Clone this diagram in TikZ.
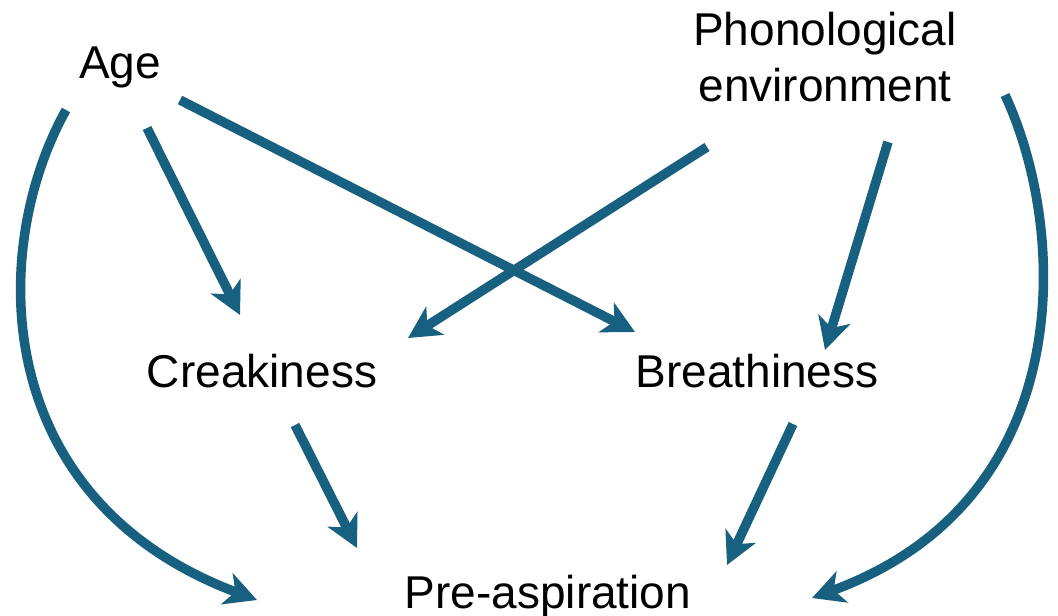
\documentclass[tikz,border=0pt]{standalone}
\usepackage{fontspec}
\setmainfont{Liberation Sans}
\usetikzlibrary{arrows.meta}
\definecolor{arrowblue}{RGB}{24,96,128}
\begin{document}
\begin{tikzpicture}[x=1pt,y=-1pt,
  lbl/.style={inner sep=0pt,font=\fontsize{46}{56}\selectfont,text=black},
  arr/.style={draw=arrowblue,line width=9.5pt,-{Stealth[length=32pt,width=33pt,inset=9pt]}}]
\useasboundingbox (0,0) rectangle (1058,616);
\node[lbl,anchor=base] (age) at (120,78) {Age};
\node[lbl,align=center] (phon) at (825,57) {Phonological\\environment};
\node[lbl,anchor=base] (creak) at (262,387) {Creakiness};
\node[lbl,anchor=base] (breath) at (757,387) {Breathiness};
\node[lbl,anchor=base] (pre) at (548,608) {Pre-aspiration};
% straight arrows
\draw[arr] ([shift={(27,50)}]age.base) -- ([shift={(-22,-72)}]creak.base);
\draw[arr] ([shift={(60,22)}]age.base) -- ([shift={(-122,-55)}]breath.base);
\draw[arr] ([shift={(-118,90)}]phon.center) -- ([shift={(146,-49)}]creak.base);
\draw[arr] ([shift={(63,85)}]phon.center) -- ([shift={(68,-37)}]breath.base);
\draw[arr] ([shift={(33,38)}]creak.base) -- ([shift={(-191,-60)}]pre.base);
\draw[arr] ([shift={(36,37)}]breath.base) -- ([shift={(179,-43)}]pre.base);
% curved arrows
\draw[arr] ([shift={(-54,32)}]age.base) .. controls +(-78,140) and +(-267,-100) .. ([shift={(-291,-8)}]pre.base);
\draw[arr] ([shift={(180,38)}]phon.center) .. controls +(63,135) and +(268,-98) .. ([shift={(264,-10)}]pre.base);
\end{tikzpicture}
\end{document}
